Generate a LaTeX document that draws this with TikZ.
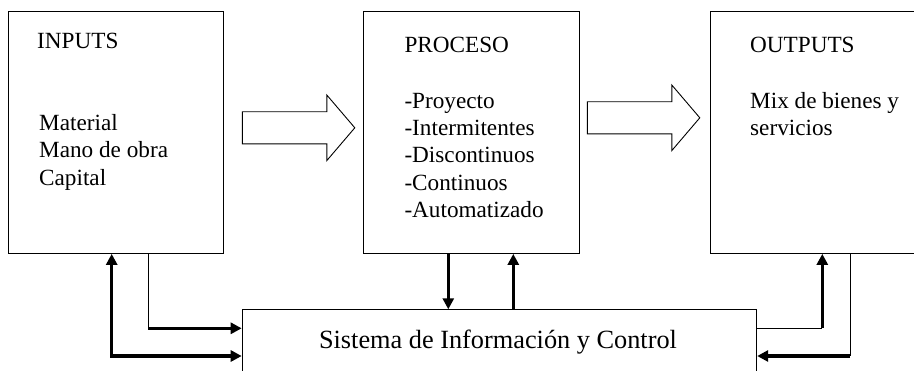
\documentclass[tikz,border=0pt]{standalone}
\usepackage{fontspec}
\setmainfont{Liberation Serif}
\usetikzlibrary{arrows.meta}

\begin{document}
\begin{tikzpicture}[x=1pt,y=-1pt,
    caja/.style={draw,line width=0.9pt,anchor=north west,inner sep=0pt},
    texto/.style={anchor=base west,align=left,inner sep=0pt,
        font=\fontsize{23.2}{27.3}\selectfont},
    fino/.style={line width=0.9pt},
    punta/.style={-{Triangle[length=11pt,width=11pt]}},
    flecha/.style={line width=3.2pt,punta},
    bloque/.style={draw,line width=0.9pt,line join=miter}
]
    \useasboundingbox (0,0) rectangle (914,370);
    \clip (0,0) rectangle (914,370);
    % cajas
    \node [caja,minimum width=215,minimum height=242.5] (inputs) at (8.3,10.5) {};
    \node [caja,minimum width=215.7,minimum height=242.5] (proceso) at (363.3,10.5) {};
    \node [caja,minimum width=260,minimum height=242.5] (outputs) at (709.7,10.5) {};
    \node [caja,minimum width=514.6,minimum height=100] (sic) at (241.7,309.3) {};
    % textos (base = ultima linea)
    \node [texto] (tin) at (37,48.3) {INPUTS};
    \node [texto] (tinl) at (39,185) {Material\\Mano de obra\\Capital};
    \node [texto] (tpr) at (404.3,52.5) {PROCESO};
    \node [texto] (tprl) at (404.3,217.3) {-Proyecto\\-Intermitentes\\-Discontinuos\\-Continuos\\-Automatizado};
    \node [texto] (tout) at (750,52.5) {OUTPUTS};
    \node [texto] (toutl) at (750,135.6) {Mix de bienes y\\servicios};
    \node [texto,anchor=base,font=\fontsize{26.3}{30}\selectfont] (tsic) at (498,348.3)
        {Sistema de Información y Control};
    % flechas grandes
    \foreach \xa/\ya in {242.3/111.7,587.3/101.7}
        \draw [bloque] (\xa,\ya) -- ++(84.5,0) -- ++(0,-16.7) -- ++(28,32.8)
            -- ++(-28,32.8) -- ++(0,-16.7) -- ++(-84.5,0) -- cycle;
    % realimentacion
    \coordinate (a1) at (148.3,328.3);
    \coordinate (a2) at (111.7,356);
    \coordinate (b1) at (822.3,328.3);
    \coordinate (b2) at (850,356);
    \draw [fino] (inputs.south -| a1) -- (a1);
    \draw [flecha] (a1) -- (a1 -| sic.west);
    \draw [flecha,{Triangle[length=11pt,width=11pt]}-{Triangle[length=11pt,width=11pt]}]
        (inputs.south -| a2) -- (a2) -- (a2 -| sic.west);
    \draw [flecha] (proceso.south -| 448.3,0) -- (sic.north -| 448.3,0);
    \draw [flecha] (sic.north -| 513.3,0) -- (proceso.south -| 513.3,0);
    \draw [fino] (b1 -| sic.east) -- (b1);
    \draw [flecha] (b1) -- (outputs.south -| b1);
    \draw [fino] (outputs.south -| b2) -- (b2);
    \draw [flecha] (b2) -- (b2 -| sic.east);
\end{tikzpicture}
\end{document}
